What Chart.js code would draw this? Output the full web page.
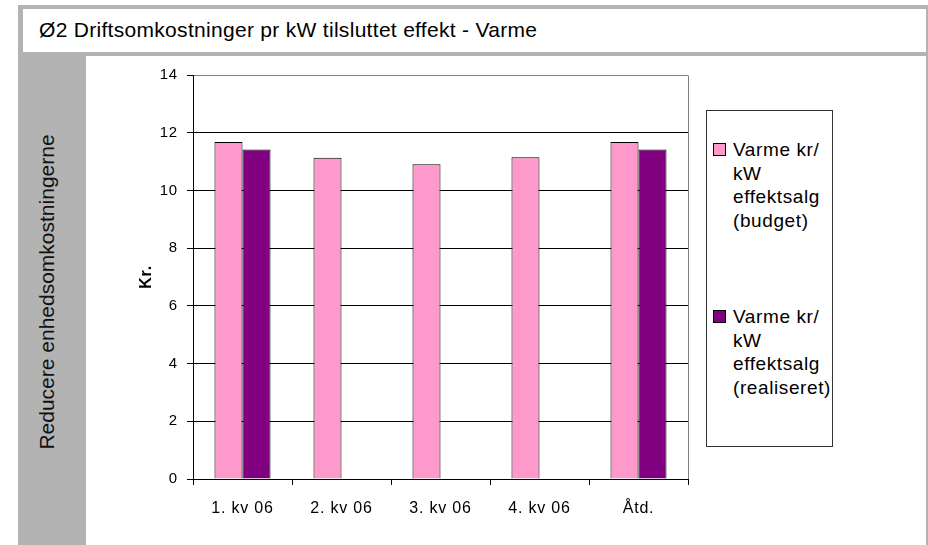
<!DOCTYPE html>
<html>
<head>
<meta charset="utf-8">
<script src="https://cdn.jsdelivr.net/npm/chart.js@4/dist/chart.umd.min.js"></script>
<style>
  html, body { margin: 0; padding: 0; background: #fff; width: 928px; height: 545px; overflow: hidden; }
  body { position: relative; font-family: 'Liberation Sans', Arial, sans-serif; color: #000; }
  #frame { position: absolute; left: 18px; top: 5px; width: 910px; height: 540px; background: #b3b3b3; }
  #titlebox { position: absolute; left: 23px; top: 9px; width: 903px; height: 43px; background: #fff; }
  #title { position: absolute; left: 16px; top: 0; line-height: 42px; font-size: 21px; letter-spacing: 0.3px; white-space: nowrap; }
  #band { position: absolute; left: 47px; top: 292px; transform: translate(-50%, -50%) rotate(-90deg); font-size: 21px; white-space: nowrap; color: #111; }
  #main { position: absolute; left: 86px; top: 56px; width: 840px; height: 489px; background: #fff; }
  #chart { position: absolute; left: 0; top: 0; }
  #legend { position: absolute; left: 706px; top: 110px; width: 125px; height: 335px; border: 1px solid #333; background: #fff; }
  .item { position: absolute; left: 0; font-size: 19px; line-height: 23.6px; letter-spacing: 0.6px; }
  .sw { position: absolute; left: 6px; top: 5px; width: 11px; height: 11px; border: 1px solid #000; }
  .txt { position: absolute; left: 26px; top: 0; white-space: nowrap; }
</style>
</head>
<body>
<div id="frame"></div>
<div id="titlebox"><div id="title">Ø2 Driftsomkostninger pr kW tilsluttet effekt - Varme</div></div>
<div id="band">Reducere enhedsomkostningerne</div>
<div id="main"><canvas id="chart" width="840" height="489"></canvas></div>
<div id="legend"></div>
<script>
// ---- data ----
const categories = ['1. kv 06', '2. kv 06', '3. kv 06', '4. kv 06', 'Åtd.'];
const budgetValues = [11.68, 11.13, 10.91, 11.15, 11.68];
const realisedValues = [11.42, null, null, null, 11.42];
const seriesLabels = [
  ['Varme kr/', 'kW', 'effektsalg', '(budget)'],
  ['Varme kr/', 'kW', 'effektsalg', '(realiseret)']
];
const yTicks = [0, 2, 4, 6, 8, 10, 12, 14];
const yAxisTitle = 'Kr.';

const colors = ['#ff99cc', '#800080'];
const FONT = "'Liberation Sans', Arial, sans-serif";

const textSpacing = {
  id: 'textSpacing',
  beforeDraw(chart) { chart.ctx.letterSpacing = '0.8px'; }
};

const plotBorder = {
  id: 'plotBorder',
  beforeDatasetsDraw(chart) {
    const a = chart.chartArea, ctx = chart.ctx;
    ctx.save();
    ctx.strokeStyle = '#808080';
    ctx.lineWidth = 1;
    ctx.beginPath();
    const r = Math.round(a.right) + 0.5;
    ctx.moveTo(r, Math.round(a.top) + 0.5);
    ctx.lineTo(r, Math.round(a.bottom));
    ctx.stroke();
    ctx.restore();
  }
};

const chart = new Chart(document.getElementById('chart'), {
  type: 'bar',
  data: {
    labels: categories,
    datasets: [
      { label: seriesLabels[0].join(' '), data: budgetValues, backgroundColor: colors[0], borderColor: '#000', borderWidth: 1 },
      { label: seriesLabels[1].join(' '), data: realisedValues, backgroundColor: colors[1], borderColor: '#000', borderWidth: 1 }
    ]
  },
  options: {
    responsive: false,
    devicePixelRatio: 1,
    animation: false,
    events: [],
    layout: { padding: { left: 0, right: 238, top: 19, bottom: 0 } },
    datasets: { bar: { categoryPercentage: 0.566, barPercentage: 1.0 } },
    plugins: { legend: { display: false }, tooltip: { enabled: false }, title: { display: false } },
    scales: {
      x: {
        type: 'category',
        grid: { display: true, drawOnChartArea: false, drawTicks: true, tickLength: 6, color: '#000', offset: true },
        border: { display: true, color: '#000' },
        ticks: { color: '#000', font: { family: FONT, size: 16 }, padding: 14, maxRotation: 0 },
        afterFit(s) { s.height = 66; }
      },
      y: {
        min: 0, max: 14,
        afterBuildTicks(s) { s.ticks = yTicks.map(v => ({ value: v })); },
        grid: {
          color: (c) => (c.tick && c.tick.value === 14 ? '#808080' : '#000'),
          tickColor: '#000',
          tickLength: 6,
          lineWidth: 1
        },
        border: { display: true, color: '#000' },
        ticks: { color: '#000', font: { family: FONT, size: 15 }, padding: 9 },
        title: { display: true, text: yAxisTitle, color: '#000', font: { family: FONT, size: 16, weight: 'bold' }, padding: { top: 51, bottom: 0 } },
        afterFit(s) { s.width = 107; }
      }
    }
  },
  plugins: [textSpacing, plotBorder]
});

// HTML legend built from the datasets
const legend = document.getElementById('legend');
const itemTops = [27, 194];
chart.data.datasets.forEach((ds, i) => {
  const it = document.createElement('div');
  it.className = 'item';
  it.style.top = itemTops[i] + 'px';
  const sw = document.createElement('div');
  sw.className = 'sw';
  sw.style.background = ds.backgroundColor;
  const tx = document.createElement('div');
  tx.className = 'txt';
  tx.innerHTML = seriesLabels[i].map(s => s.replace(/&/g, '&amp;').replace(/</g, '&lt;')).join('<br>');
  it.appendChild(sw); it.appendChild(tx);
  legend.appendChild(it);
});
</script>
</body>
</html>
